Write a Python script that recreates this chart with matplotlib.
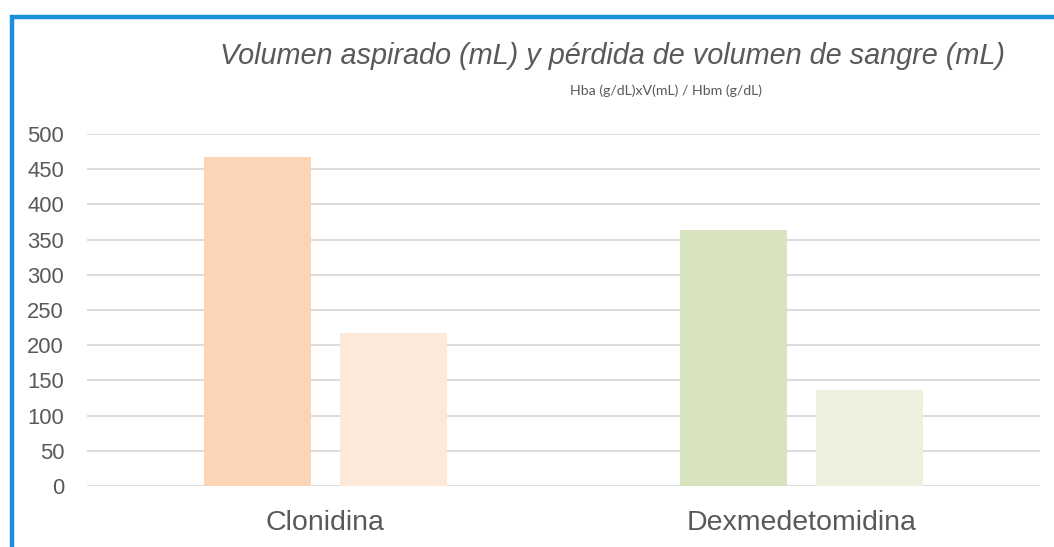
import matplotlib
matplotlib.use("Agg")
import matplotlib.pyplot as plt
from matplotlib.patches import Rectangle
from matplotlib import font_manager
import numpy as np

categories = ["Clonidina", "Dexmedetomidina"]
volumen_aspirado = [468, 363]
perdida_sangre = [217, 136]
yticks = [0, 50, 100, 150, 200, 250, 300, 350, 400, 450, 500]

W, H = 1054, 547
fig = plt.figure(figsize=(W / 100, H / 100), dpi=100)
ax = fig.add_axes([87 / W, 1 - 486 / H, (1040 - 87) / W, (486 - 134) / H])

x = np.arange(len(categories))
bw = 0.225
off = 0.143
c1 = ["#FBD5B5", "#D7E4BD"]
c2 = ["#FCE9DA", "#EBF1DE"]
ax.bar(x - off, volumen_aspirado, bw, color=c1, zorder=3)
ax.bar(x + off, perdida_sangre, bw, color=c2, zorder=3)

ax.set_xlim(-0.5, 1.5)
ax.set_ylim(0, 500)
ax.set_yticks(yticks)
ax.set_yticklabels([str(v) for v in yticks], fontsize=15.8, color="#595959",
                   family="Liberation Sans")
ax.set_xticks(x)
ax.set_xticklabels(categories, fontsize=20.5, color="#595959", family="Liberation Sans")
ax.tick_params(axis="both", length=0)
ax.tick_params(axis="y", pad=16.5)
ax.tick_params(axis="x", pad=17)
ax.yaxis.grid(True, color="#D9D9D9", linewidth=1.3, zorder=0)
for s in ax.spines.values():
    s.set_visible(False)

fig.text(612 / W, 1 - 64 / H, "Volumen aspirado (mL) y pérdida de volumen de sangre (mL)",
         ha="center", va="baseline", fontsize=20.8, style="italic", color="#595959",
         family="Liberation Sans")

names = {f.name for f in font_manager.fontManager.ttflist}
if "Liberation Sans Narrow" in names:
    sub_family, sub_size = "Liberation Sans Narrow", 12.3
else:
    sub_family, sub_size = "Lato", 10.2
fig.text(666 / W, 1 - 95 / H, "Hba (g/dL)xV(mL) / Hbm (g/dL)", ha="center", va="baseline",
         fontsize=sub_size, color="#595959", family=sub_family)

rect = Rectangle((11.5 / W, -0.1), 1.2, 1 - 17 / H + 0.1, transform=fig.transFigure,
                 fill=False, edgecolor="#1B8FDB", linewidth=3.2)
fig.patches.append(rect)

fig.savefig("out.png", dpi=100)
